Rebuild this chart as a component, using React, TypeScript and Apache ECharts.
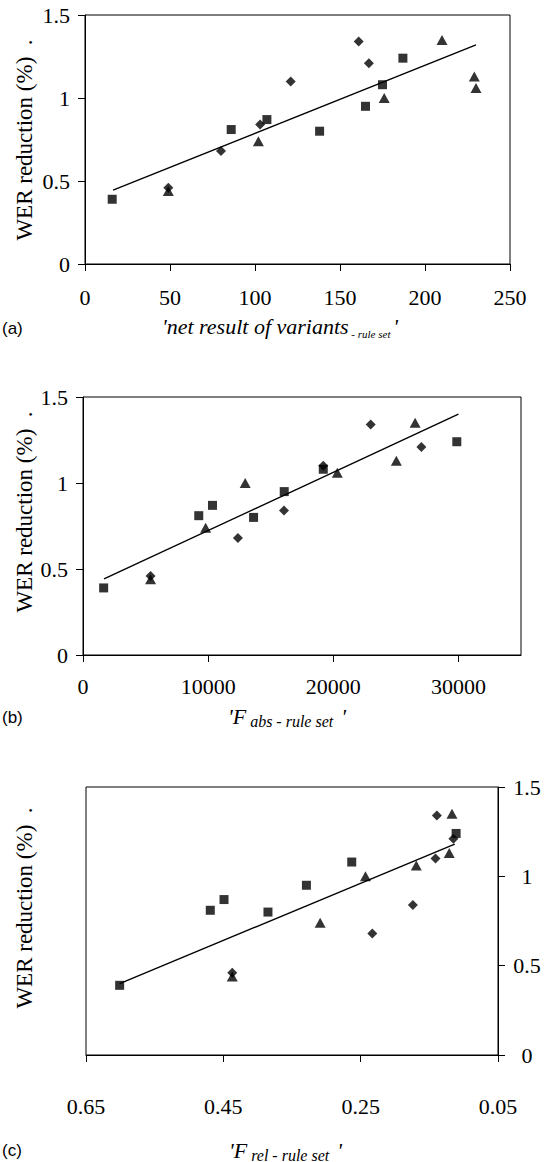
import React, { useEffect, useRef } from "react";
import * as echarts from "echarts";

// ---- data ----
const werSquare = [0.39, 0.81, 0.87, 0.8, 0.95, 1.08, 1.24];
const werTriangle = [0.44, 0.74, 1.0, 1.06, 1.13, 1.35];
const werDiamond = [0.46, 0.68, 0.84, 1.1, 1.21, 1.34];

const netSquare = [16, 86, 107, 138, 165, 175, 187];
const netTriangle = [49, 102, 176, 230, 229, 210];
const netDiamond = [49, 80, 103, 121, 167, 161];

const fabsSquare = [1650, 9250, 10350, 13630, 16080, 19200, 29870];
const fabsTriangle = [5400, 9800, 12960, 20320, 25040, 26540];
const fabsDiamond = [5400, 12380, 16060, 19200, 27040, 22990];

const frelSquare = [0.601, 0.469, 0.449, 0.385, 0.329, 0.263, 0.111];
const frelTriangle = [0.437, 0.309, 0.243, 0.169, 0.121, 0.117];
const frelDiamond = [0.437, 0.233, 0.174, 0.141, 0.115, 0.139];

const trendNet = [[16.5, 0.445], [230, 1.32]];
const trendFabs = [[1680, 0.442], [30000, 1.4]];
const trendFrel = [[0.601, 0.4], [0.113, 1.18]];

const yTicks = [0, 0.5, 1, 1.5];
const netTicks = [0, 50, 100, 150, 200, 250];
const fabsTicks = [0, 10000, 20000, 30000];
const frelTicks = [0.05, 0.25, 0.45, 0.65];

const yTitle = "WER reduction (%)  .";
const panelLetters = ["(a)", "(b)", "(c)"];

const SERIF = "Liberation Serif, Times New Roman, serif";
const SANS = "Liberation Sans, Arial, sans-serif";

const zip = (xs: number[], ys: number[]) => xs.map((x, i) => [x, ys[i]]);

export default function App() {
  const ref = useRef<HTMLDivElement>(null);

  useEffect(() => {
    if (!ref.current) return;
    const chart = echarts.init(ref.current, undefined, { renderer: "svg" });

    const grids = [
      { left: 85, top: 15, width: 425, height: 249 },
      { left: 83, top: 397, width: 438, height: 258 },
      { left: 86, top: 787, width: 412, height: 268 },
    ].map((g) => ({ ...g, show: true, borderColor: "#000", borderWidth: 1, backgroundColor: "transparent" }));

    const axisCommon = {
      type: "value" as const,
      axisLine: { show: true, onZero: false, lineStyle: { color: "#000", width: 1 } },
      axisTick: { show: true, inside: false, length: 7, lineStyle: { color: "#000", width: 1 } },
      splitLine: { show: false },
    };
    const labelStyle = { color: "#000", fontFamily: SERIF, fontSize: 22 };

    const xAxes = [
      {
        ...axisCommon, gridIndex: 0, min: 0, max: 250,
        axisTick: { ...axisCommon.axisTick, customValues: netTicks },
        axisLabel: { ...labelStyle, margin: 22, customValues: netTicks, formatter: (v: number) => String(v) },
      },
      {
        ...axisCommon, gridIndex: 1, min: 0, max: 35000,
        axisTick: { ...axisCommon.axisTick, customValues: fabsTicks },
        axisLabel: { ...labelStyle, margin: 20, customValues: fabsTicks, formatter: (v: number) => String(v) },
      },
      {
        ...axisCommon, gridIndex: 2, min: 0.05, max: 0.65, inverse: true,
        axisTick: { ...axisCommon.axisTick, customValues: frelTicks },
        axisLabel: {
          ...labelStyle, margin: 40, customValues: frelTicks,
          formatter: (v: number) => v.toFixed(2),
        },
      },
    ];
    const yAxes = [0, 1, 2].map((i) => ({
      ...axisCommon,
      gridIndex: i,
      min: 0,
      max: 1.5,
      position: i === 2 ? "right" : "left",
      axisTick: { ...axisCommon.axisTick, customValues: yTicks },
      axisLabel: {
        ...labelStyle,
        customValues: yTicks,
        margin: i === 2 ? 29 : 15,
        align: i === 2 ? "center" : "right",
        formatter: (v: number) => String(v),
      },
    }));

    const panels = [
      { sq: netSquare, tr: netTriangle, di: netDiamond, trend: trendNet },
      { sq: fabsSquare, tr: fabsTriangle, di: fabsDiamond, trend: trendFabs },
      { sq: frelSquare, tr: frelTriangle, di: frelDiamond, trend: trendFrel },
    ];
    const series: any[] = [];
    panels.forEach((p, i) => {
      series.push({
        type: "line", xAxisIndex: i, yAxisIndex: i, data: p.trend,
        symbol: "none", lineStyle: { color: "#000", width: 1.4 }, z: 1,
      });
      series.push({
        type: "scatter", xAxisIndex: i, yAxisIndex: i, data: zip(p.sq, werSquare),
        symbol: "rect", symbolSize: 9, itemStyle: { color: "#000" }, z: 3,
      });
      series.push({
        type: "scatter", xAxisIndex: i, yAxisIndex: i, data: zip(p.tr, werTriangle),
        symbol: "triangle", symbolSize: [11, 10], itemStyle: { color: "#000" }, z: 3,
      });
      series.push({
        type: "scatter", xAxisIndex: i, yAxisIndex: i, data: zip(p.di, werDiamond),
        symbol: "diamond", symbolSize: 10, itemStyle: { color: "#000" }, z: 3,
      });
    });

    const yTitleCenters = [140, 512, 908];
    const letterY = [328, 717, 1150];
    const xTitles = [
      { x: 162, y: 326, main: "'net result of variants", sub: " - rule set ", subSize: 11 },
      { x: 228, y: 716, main: "'F", sub: " abs - rule set  ", subSize: 16 },
      { x: 229, y: 1150, main: "'F", sub: " rel - rule set  ", subSize: 16 },
    ];

    const graphic: any[] = [];
    yTitleCenters.forEach((cy) => {
      graphic.push({
        type: "text", x: 24, y: cy, rotation: Math.PI / 2,
        style: {
          text: yTitle, fill: "#000", fontFamily: SERIF, fontSize: 23,
          align: "center", verticalAlign: "middle",
          textAlign: "center", textVerticalAlign: "middle",
        },
      });
    });
    letterY.forEach((ly, i) => {
      graphic.push({
        type: "text", x: 2, y: ly,
        style: {
          text: panelLetters[i], fill: "#000", fontFamily: SANS, fontSize: 17,
          align: "left", verticalAlign: "middle",
          textAlign: "left", textVerticalAlign: "middle",
        },
      });
    });
    xTitles.forEach((t) => {
      graphic.push({
        type: "text", x: t.x, y: t.y,
        style: {
          text: `{m|${t.main}}{s|${t.sub}}{m|'}`,
          fill: "#000",
          align: "left", verticalAlign: "middle",
          textAlign: "left", textVerticalAlign: "middle",
          rich: {
            m: { fontFamily: SERIF, fontStyle: "italic", fontSize: 22, lineHeight: 26, fill: "#000", color: "#000" },
            s: {
              fontFamily: SERIF, fontStyle: "italic", fontSize: t.subSize,
              lineHeight: t.subSize + 2, verticalAlign: "bottom", fill: "#000", color: "#000",
            },
          },
        },
      });
    });

    chart.setOption({
      animation: false,
      backgroundColor: "#fff",
      grid: grids,
      xAxis: xAxes,
      yAxis: yAxes,
      series,
      graphic,
    });

    return () => chart.dispose();
  }, []);

  return (
    <div
      ref={ref}
      style={{ position: "absolute", left: 0, top: 0, width: 551, height: 1162, background: "#fff" }}
    />
  );
}
